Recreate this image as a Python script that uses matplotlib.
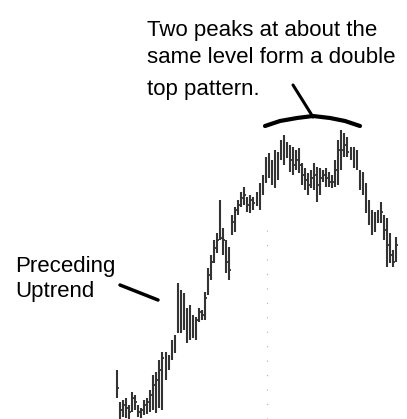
import matplotlib
matplotlib.use("Agg")
import matplotlib.pyplot as plt
import numpy as np

# daily bars (arbitrary price units)
highs = [49, 17, 19, 21, 14, 27, 24, 14, 11, 19, 21, 29, 44, 47, 59, 67, 67, 64,
         79, 84, 136, 129, 126, 111, 114, 104, 102, 111, 109, 127, 151, 164, 179, 186,
         219, 191, 179, 172, 204, 212, 219, 227, 232, 222, 224, 222, 227, 236, 244,
         262, 266, 259, 269, 267, 279, 284, 277, 274, 272, 269, 271, 256, 251, 246,
         249, 256, 252, 251, 249, 251, 247, 244, 259, 279, 289, 286, 282, 272, 272,
         269, 249, 247, 236, 219, 209, 207, 209, 217, 204, 201, 186, 169, 182]
lows = [21, 0, 2, 1, 0, 7, 9, 2, 1, 4, 5, 7, 9, 6, 11, 9, 39, 49,
        59, 66, 86, 86, 89, 76, 79, 81, 79, 97, 99, 99, 124, 139, 156, 166,
        179, 164, 146, 139, 184, 187, 204, 212, 214, 207, 206, 209, 213, 209, 224,
        236, 241, 234, 231, 239, 259, 254, 261, 247, 244, 249, 246, 234, 229, 224,
        231, 229, 217, 224, 237, 232, 232, 231, 232, 234, 249, 262, 262, 259, 251,
        249, 229, 224, 206, 194, 184, 187, 196, 196, 179, 152, 156, 152, 157]
closes = [31, 9, 14, 11, 7, 21, 17, 7, 9, 14, 17, 24, 34, 39, 49, 61, 57, 61,
          74, 79, 119, 101, 119, 84, 99, 94, 99, 107, 104, 121, 144, 157, 171, 179,
          181, 179, 157, 149, 197, 209, 214, 221, 224, 214, 219, 216, 221, 229, 239,
          254, 254, 249, 249, 257, 274, 269, 274, 259, 254, 259, 254, 244, 239, 234,
          241, 244, 234, 241, 244, 241, 237, 237, 249, 269, 269, 274, 267, 267, 261,
          254, 239, 234, 219, 204, 194, 197, 204, 207, 189, 174, 164, 157, 174]
days = np.arange(len(highs))

divider_day = 49.5
divider_top = 192

W, H = 407, 419
fig = plt.figure(figsize=(W / 100, H / 100), dpi=100)
fig.patch.set_facecolor("white")

# price axes: first bar at x=117 px, last at x=396 px
ax = fig.add_axes([0, 0, 1, 1])
step = (396 - 117) / (len(days) - 1)
ax.set_xlim(-117 / step, (W - 117) / step)
ax.set_ylim(0, H)
ax.axis("off")

bar_col = "#333333"
ax.vlines(days, lows, highs, color=bar_col, lw=1.5)
ax.hlines(closes, days, days + 0.55, color=bar_col, lw=1.3)
ax.vlines(divider_day, 0, divider_top, color="#b0b0b0", lw=0.8, linestyles=(0, (1, 12)))

# annotation layer in pixel coordinates
ov = fig.add_axes([0, 0, 1, 1])
ov.set_xlim(0, W)
ov.set_ylim(H, 0)
ov.axis("off")
ov.patch.set_alpha(0)

font = dict(family="Liberation Sans", fontsize=16, color="black", va="baseline")
ov.text(147, 36, "Two peaks at about the", **font)
ov.text(147, 63, "same level form a double", **font)
ov.text(147, 95, "top pattern.", **font)
ov.text(15, 272, "Preceding", **font)
ov.text(15, 297, "Uptrend", **font)

ov.plot([120, 158], [285, 300], color="black", lw=2.5, solid_capstyle="round")
ov.plot([293, 313], [85, 117], color="black", lw=2.2, solid_capstyle="round")
ov.plot([265, 280, 297, 313, 330, 345, 360], [126, 121, 118, 116, 118, 121, 126],
        color="black", lw=3, solid_capstyle="round")

fig.savefig("out.png", dpi=100, facecolor="white")
